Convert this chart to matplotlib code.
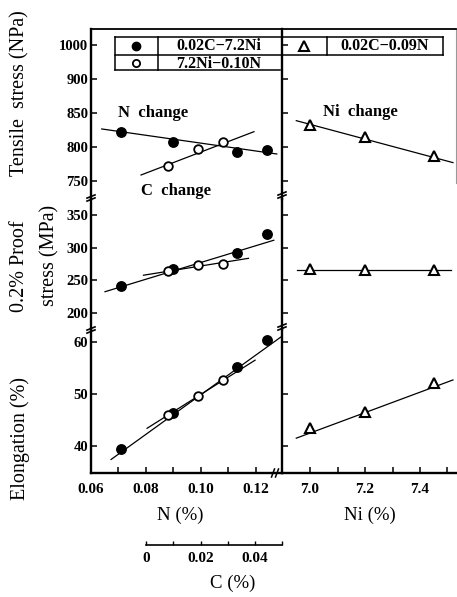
import matplotlib
matplotlib.use('Agg')
import matplotlib.pyplot as plt
from matplotlib.lines import Line2D

plt.rcParams['font.family'] = ['Liberation Serif', 'DejaVu Serif']

# ---------------- data ----------------
# filled circles: 0.02C-7.2Ni, N varied
n_pct = [0.071, 0.090, 0.113, 0.124]
tensile_n = [822, 808, 792, 796]
proof_n = [242, 267, 291, 320]
elong_n = [39.4, 46.4, 55.1, 60.4]

# open circles: 7.2Ni-0.10N, C varied
c_pct = [0.0077, 0.0184, 0.0276]
tensile_c = [772, 797, 808]
proof_c = [265, 273, 275]
elong_c = [46.0, 49.6, 52.6]

# triangles: 0.02C-0.09N, Ni varied
ni_pct = [7.0, 7.2, 7.45]
tensile_ni = [833, 814, 786]
proof_ni = [268, 266.5, 266]
elong_ni = [43.4, 46.6, 52.2]

# fitted straight lines (end points)
fit_n_x = [0.0639, 0.1276]
fit_tensile_n = [826.5, 789.7]
fit_proof_n_x = [0.0651, 0.1265]
fit_proof_n = [233, 311]
fit_elong_n_x = [0.0673, 0.1292]
fit_elong_n = [37.4, 61.0]

fit_tensile_c_x = [-0.0022, 0.0389]
fit_tensile_c = [758.8, 822.5]
fit_proof_c_x = [-0.0013, 0.0369]
fit_proof_c = [258, 283.6]
fit_elong_c_x = [0.0, 0.0393]
fit_elong_c = [43.4, 56.5]

fit_ni_x = [6.95, 7.52]
fit_tensile_ni = [838.7, 777]
fit_proof_ni_x = [6.952, 7.513]
fit_proof_ni = [266.3, 266.3]
fit_elong_ni = [41.5, 52.7]

tensile_ticks = [750, 800, 850, 900, 950]
tensile_labels = ['750', '800', '850', '900', '1000']
proof_ticks = [200, 250, 300, 350]
elong_ticks = [40, 50, 60]
n_ticks = [0.06, 0.07, 0.08, 0.09, 0.10, 0.11, 0.12]
n_labels = ['0.06', '', '0.08', '', '0.10', '', '0.12']
ni_ticks = [7.0, 7.1, 7.2, 7.3, 7.4, 7.5]
ni_labels = ['7.0', '', '7.2', '', '7.4', '']
c_ticks = [0, 0.01, 0.02, 0.03, 0.04, 0.05]
c_labels = ['0', '', '0.02', '', '0.04', '']

# ---------------- layout ----------------
W, H = 457, 597
fig = plt.figure(figsize=(W / 100, H / 100), dpi=100)


def fx(x):
    return x / W


def fy(y):
    return 1 - y / H


def add_ax(x0, x1, y0, y1):
    return fig.add_axes([fx(x0), fy(y1), fx(x1) - fx(x0), fy(y0) - fy(y1)])


XL, XD, XR = 91, 282, 456
YT, YB1, YB2, YB = 29, 199, 329, 473

N_LIM = (0.06, 0.1295)
C_OFF = 0.0804
C_LIM = (N_LIM[0] - C_OFF, N_LIM[1] - C_OFF)
NI_LIM = (6.898, 7.531)

rows = [
    dict(y0=YT, y1=YB1, lim=(723.5, 973.5), ticks=tensile_ticks, labels=tensile_labels,
         n=(n_pct, tensile_n, fit_n_x, fit_tensile_n),
         c=(c_pct, tensile_c, fit_tensile_c_x, fit_tensile_c),
         ni=(ni_pct, tensile_ni, fit_ni_x, fit_tensile_ni)),
    dict(y0=YB1, y1=YB2, lim=(176.5, 373.5), ticks=proof_ticks, labels=[str(t) for t in proof_ticks],
         n=(n_pct, proof_n, fit_proof_n_x, fit_proof_n),
         c=(c_pct, proof_c, fit_proof_c_x, fit_proof_c),
         ni=(ni_pct, proof_ni, fit_proof_ni_x, fit_proof_ni)),
    dict(y0=YB2, y1=YB, lim=(34.8, 62.5), ticks=elong_ticks, labels=[str(t) for t in elong_ticks],
         n=(n_pct, elong_n, fit_elong_n_x, fit_elong_n),
         c=(c_pct, elong_c, fit_elong_c_x, fit_elong_c),
         ni=(ni_pct, elong_ni, fit_ni_x, fit_elong_ni)),
]

SPW = 1.7
LW = 0.9
MS = 6.8
TICKFS = 11
TW = 'bold'

for i, r in enumerate(rows):
    axl = add_ax(XL, XD, r['y0'], r['y1'])
    axr = add_ax(XD, XR, r['y0'], r['y1'])
    for ax, lim in ((axl, N_LIM), (axr, NI_LIM)):
        ax.set_facecolor('none')
        ax.set_xlim(*lim)
        ax.set_ylim(*r['lim'])
        ax.set_yticks(r['ticks'])
        ax.tick_params(axis='y', direction='in', length=4, width=1.1, pad=2,
                       labelsize=10.5)
        for s in ('left', 'right', 'top', 'bottom'):
            ax.spines[s].set_linewidth(SPW)
        ax.spines['right'].set_visible(False)
        ax.spines['top'].set_visible(i == 0)
        ax.spines['bottom'].set_visible(i == 2)
        if i == 0:
            ax.spines['top'].set_linewidth(1.3)
        if i < 2:
            ax.set_xticks([])
    axl.set_yticklabels(r['labels'], fontweight=TW)
    axr.tick_params(axis='y', labelleft=False)
    if i == 0:
        axr.spines['right'].set_visible(True)
        axr.spines['right'].set_color('#999999')
        axr.spines['right'].set_linewidth(0.8)
        axr.spines['right'].set_bounds(r['lim'][0] + 24, r['lim'][1])
    if i == 2:
        axl.set_xticks(n_ticks)
        axl.set_xticklabels(n_labels, fontweight=TW)
        axr.set_xticks(ni_ticks)
        axr.set_xticklabels(ni_labels, fontweight=TW)
        for ax in (axl, axr):
            ax.tick_params(axis='x', direction='in', length=4, width=1.1, pad=7,
                           labelsize=TICKFS)

    # N series (filled circles)
    xs, ys, fxs, fys = r['n']
    axl.plot(fxs, fys, color='black', lw=LW, clip_on=False)
    axl.plot(xs, ys, 'o', color='black', ms=MS, clip_on=False, zorder=5)

    # C series (open circles) on a C-scaled twin axis
    axc = axl.twiny()
    axc.set_xlim(*C_LIM)
    axc.set_ylim(*r['lim'])
    axc.set_axis_off()
    xs, ys, fxs, fys = r['c']
    axc.plot(fxs, fys, color='black', lw=LW, clip_on=False)
    axc.plot(xs, ys, 'o', mfc='white', mec='black', mew=1.3, ms=MS - 0.6,
             clip_on=False, zorder=6)

    # Ni series (triangles)
    xs, ys, fxs, fys = r['ni']
    axr.plot(fxs, fys, color='black', lw=LW, clip_on=False)
    axr.plot(xs, ys, '^', mfc='white', mec='black', mew=1.5, ms=MS + 0.6,
             clip_on=False, zorder=5)

# ---------------- C axis below ----------------
axC = add_ax(XL, XD, 544, 545)
axC.set_facecolor('none')
axC.set_xlim(*C_LIM)
axC.set_yticks([])
for s in ('left', 'right', 'top'):
    axC.spines[s].set_visible(False)
axC.spines['bottom'].set_bounds(0, 0.05)
axC.spines['bottom'].set_linewidth(1.2)
axC.set_xticks(c_ticks)
axC.set_xticklabels(c_labels, fontweight=TW)
axC.tick_params(axis='x', direction='in', length=3, width=1.0, pad=5, labelsize=TICKFS)

# ---------------- break marks ----------------
def brk(x, y, dx=4, dy=1.6, gap=3.0):
    for off in (-gap / 2, gap / 2):
        fig.add_artist(Line2D([fx(x - dx), fx(x + dx)],
                              [fy(y + off + dy), fy(y + off - dy)],
                              color='black', lw=1.2))

brk(XL, 198)
brk(XL, 330)
brk(XD, 195)
brk(XD, 327)
# x-axis break
for off in (-2.0, 2.0):
    fig.add_artist(Line2D([fx(275 + off - 1.5), fx(275 + off + 1.5)],
                          [fy(477), fy(469)], color='black', lw=1.1))

# ---------------- legend table ----------------
def hline(y, x0, x1):
    fig.add_artist(Line2D([fx(x0), fx(x1)], [fy(y), fy(y)], color='black', lw=1.1))


def vline(x, y0, y1):
    fig.add_artist(Line2D([fx(x), fx(x)], [fy(y0), fy(y1)], color='black', lw=1.1))

hline(37, 115, 443)
hline(55, 115, 443)
hline(70, 115, 280)
vline(115, 37, 70)
vline(158, 37, 70)
vline(327, 37, 55)
vline(443, 37, 55)

fig.add_artist(Line2D([fx(136)], [fy(46)], marker='o', color='black', ms=6))
fig.add_artist(Line2D([fx(136)], [fy(63)], marker='o', mfc='white', mec='black', mew=1.3, ms=5.2))
fig.add_artist(Line2D([fx(304)], [fy(46)], marker='^', mfc='white', mec='black', mew=1.5, ms=6.5))

LEGFS = 11.5
fig.text(fx(219), fy(46.5), '0.02C\u22127.2Ni', ha='center', va='center', fontsize=LEGFS, fontweight=TW)
fig.text(fx(219), fy(63.5), '7.2Ni\u22120.10N', ha='center', va='center', fontsize=LEGFS, fontweight=TW)
fig.text(fx(385), fy(46.5), '0.02C\u22120.09N', ha='center', va='center', fontsize=LEGFS, fontweight=TW)

# ---------------- annotations ----------------
ANNFS = 12
fig.text(fx(118), fy(113), 'N  change', ha='left', va='center', fontsize=ANNFS, fontweight=TW)
fig.text(fx(141), fy(191), 'C  change', ha='left', va='center', fontsize=ANNFS, fontweight=TW)
fig.text(fx(323), fy(112), 'Ni  change', ha='left', va='center', fontsize=ANNFS, fontweight=TW)

# ---------------- axis titles ----------------
LABFS = 13.5
fig.text(fx(180), fy(515), 'N (%)', ha='center', va='center', fontsize=LABFS)
fig.text(fx(370), fy(515), 'Ni (%)', ha='center', va='center', fontsize=LABFS)
fig.text(fx(233), fy(583), 'C (%)', ha='center', va='center', fontsize=LABFS)

YLABFS = 14.5
fig.text(fx(20), fy(93), 'Tensile  stress (NPa)', rotation=90, ha='center', va='center', fontsize=YLABFS)
fig.text(fx(20), fy(266), '0.2% Proof', rotation=90, ha='center', va='center', fontsize=YLABFS)
fig.text(fx(20), fy(438), 'Elongation (%)', rotation=90, ha='center', va='center', fontsize=YLABFS)
fig.text(fx(50), fy(255), 'stress (MPa)', rotation=90, ha='center', va='center', fontsize=YLABFS)

fig.savefig('out.png', dpi=100)
